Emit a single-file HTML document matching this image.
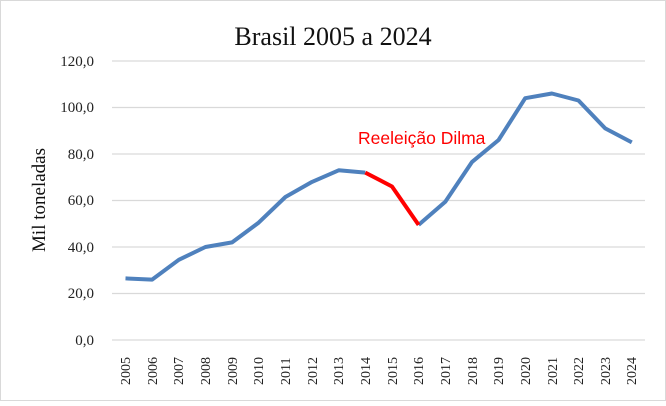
<!DOCTYPE html><html><head><style>body{margin:0;background:#fff}</style></head><body>
<svg width="666" height="401" xmlns="http://www.w3.org/2000/svg" font-family="Liberation Serif, serif">
<rect x="0.5" y="0.5" width="665" height="400" fill="#fff" stroke="#d9d9d9"/>
<text x="333" y="45" font-size="26" text-anchor="middle" fill="#111">Brasil 2005 a 2024</text>
<g stroke="#d9d9d9" stroke-width="1.3">
<line x1="112" x2="645" y1="61" y2="61"/><line x1="112" x2="645" y1="107.5" y2="107.5"/><line x1="112" x2="645" y1="154" y2="154"/><line x1="112" x2="645" y1="200.5" y2="200.5"/><line x1="112" x2="645" y1="247" y2="247"/><line x1="112" x2="645" y1="293.5" y2="293.5"/><line x1="112" x2="645" y1="340" y2="340"/>
</g>
<g font-size="15" text-anchor="end" fill="#222">
<text x="94" y="66">120,0</text><text x="94" y="112">100,0</text><text x="94" y="159">80,0</text><text x="94" y="205">60,0</text><text x="94" y="252">40,0</text><text x="94" y="298">20,0</text><text x="94" y="345">0,0</text>
</g>
<text transform="translate(45,200) rotate(-90)" font-size="19" text-anchor="middle" fill="#111">Mil toneladas</text>
<polyline fill="none" stroke="#4f81bd" stroke-width="4" stroke-linejoin="round" points="125.5,278.4 152.1,279.6 178.8,259.8 205.4,247 232.1,242.4 258.7,222.6 285.4,197 312,181.9 338.7,170.3 365.3,172.6"/>
<polyline fill="none" stroke="#4f81bd" stroke-width="4" stroke-linejoin="round" points="418.6,224.9 445.3,201.7 471.9,162.1 498.6,140 525.2,98.2 551.9,93.5 578.5,100.5 605.2,128.4 631.8,142.4"/>
<polyline fill="none" stroke="#ff0000" stroke-width="4" stroke-linejoin="round" points="365.3,172.6 392,186.5 418.6,224.9"/>
<text x="358" y="144" font-family="Liberation Sans, sans-serif" font-size="17.5" fill="#ff0000">Reeleição Dilma</text>
<g font-size="14" fill="#222">
<text transform="translate(130,385) rotate(-90)">2005</text><text transform="translate(157,385) rotate(-90)">2006</text><text transform="translate(183,385) rotate(-90)">2007</text><text transform="translate(210,385) rotate(-90)">2008</text><text transform="translate(237,385) rotate(-90)">2009</text><text transform="translate(263,385) rotate(-90)">2010</text><text transform="translate(290,385) rotate(-90)">2011</text><text transform="translate(317,385) rotate(-90)">2012</text><text transform="translate(343,385) rotate(-90)">2013</text><text transform="translate(370,385) rotate(-90)">2014</text><text transform="translate(397,385) rotate(-90)">2015</text><text transform="translate(423,385) rotate(-90)">2016</text><text transform="translate(450,385) rotate(-90)">2017</text><text transform="translate(477,385) rotate(-90)">2018</text><text transform="translate(503,385) rotate(-90)">2019</text><text transform="translate(530,385) rotate(-90)">2020</text><text transform="translate(557,385) rotate(-90)">2021</text><text transform="translate(583,385) rotate(-90)">2022</text><text transform="translate(610,385) rotate(-90)">2023</text><text transform="translate(636,385) rotate(-90)">2024</text>
</g>
</svg></body></html>
